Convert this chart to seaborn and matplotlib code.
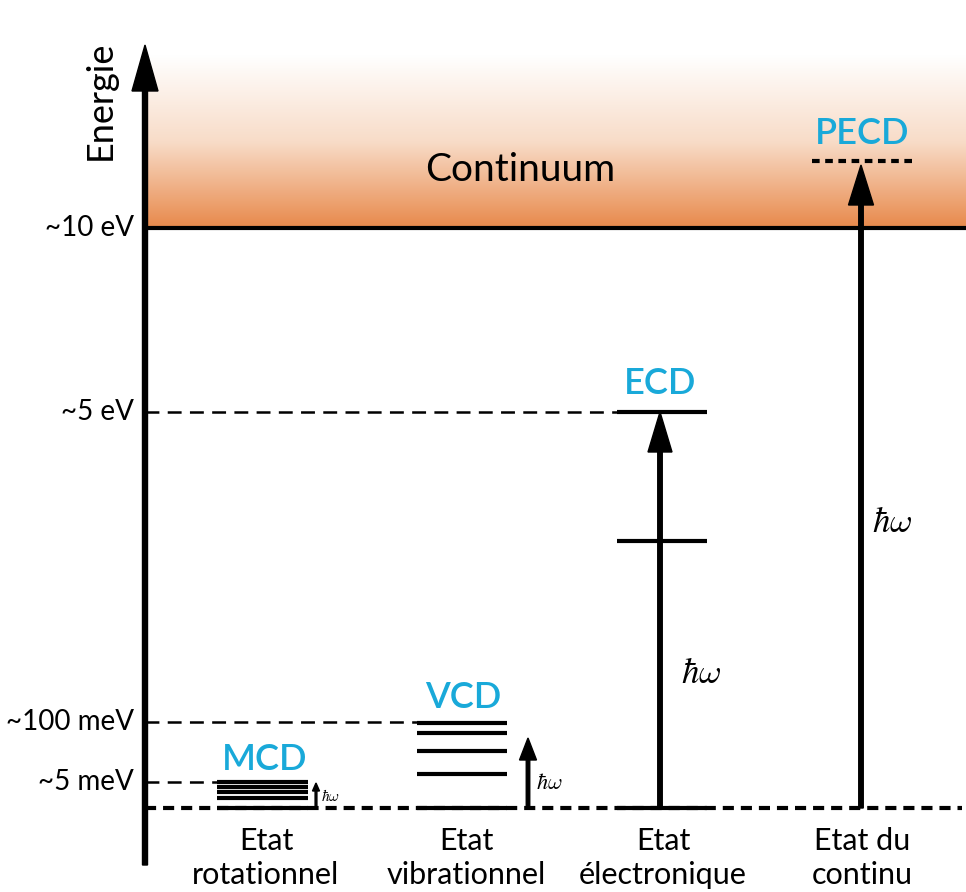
import numpy as np
import matplotlib
matplotlib.use('Agg')
import matplotlib.pyplot as plt
from matplotlib.colors import LinearSegmentedColormap
import seaborn as sns

sns.set_style('white')
plt.rcParams['font.family'] = ['Lato', 'DejaVu Sans']
plt.rcParams['text.color'] = 'black'
plt.rcParams['mathtext.fontset'] = 'cm'
plt.rcParams['lines.scale_dashes'] = False

# diagram units = pixel rows of the drawing (0 = top)
axis_x = 145
continuum_y = 228
continuum_top = 55
baseline_y = 808

tick_labels = ['~10 eV', '~5 eV', '~100 meV', '~5 meV']
tick_y = [228, 412, 722, 782]
guide_end = [None, 617, 417, 218]

columns = ['Etat\nrotationnel', 'Etat\nvibrationnel', 'Etat\nélectronique', 'Etat du\ncontinu']
col_x = [266, 466, 663, 862]
col_left = [217, 417, 617, None]
col_right = [308, 507, 707, None]

mcd_levels = [782, 787, 792, 798, 808]
vcd_levels = [723, 733, 751, 774, 808]
ecd_levels = [412, 541, 808]
pecd_level = 161

methods = ['MCD', 'VCD', 'ECD', 'PECD']
method_x = [265, 463, 660, 862]
method_y = [759, 697, 383, 133]

arrow_x = [316, 528, 660, 861]
arrow_top = [783, 738, 412, 165]
arrow_head_w = [7, 17, 24, 25]
arrow_head_l = [8, 22, 40, 40]
arrow_w = [1.8, 3.5, 4.5, 4.5]
hw_x = [321, 536, 681, 872]
hw_y = [796, 783, 673, 522]
hw_size = [11, 16, 25, 25]

cyan = '#19A9D9'
orange = '#E8894B'

fig = plt.figure(figsize=(9.66, 8.92), dpi=100)
ax = fig.add_axes([0, 0, 1, 1])
ax.set_xlim(0, 966)
ax.set_ylim(892, 0)
ax.axis('off')

# continuum gradient
cmap = LinearSegmentedColormap.from_list('cont', ['#FFFFFF', '#F8DCC8', orange])
grad = np.linspace(0, 1, 256).reshape(-1, 1)
ax.imshow(grad, cmap=cmap, aspect='auto', origin='upper',
          extent=(axis_x, 966, continuum_y, continuum_top), zorder=0)
ax.plot([axis_x, 966], [continuum_y, continuum_y], color='black', lw=3, solid_capstyle='butt')
ax.text(520, 170, 'Continuum', fontsize=28, ha='center', va='center')

# vertical energy axis
ax.arrow(axis_x, 865, 0, 45 - 865, width=5, head_width=26, head_length=46,
         length_includes_head=True, color='black', zorder=5)
ax.text(100, 100, 'Energie', fontsize=26, rotation=90, ha='center', va='center')

# tick labels and dashed guides
for lab, y, xe in zip(tick_labels, tick_y, guide_end):
    ax.text(134, y, lab, fontsize=20, ha='right', va='center')
    if xe is not None:
        ax.plot([axis_x, xe], [y, y], color='black', lw=1.8, dashes=(10, 6))

# baseline
ax.plot([axis_x, 962], [baseline_y, baseline_y], color='black', lw=3, dashes=(8, 5))

# levels
for levels, xl, xr in zip([mcd_levels, vcd_levels, ecd_levels], col_left, col_right):
    ax.hlines(levels, xl, xr, color='black', lw=3)
ax.plot([812, 913], [pecd_level, pecd_level], color='black', lw=3, dashes=(5.5, 4))

# transitions
for x, yt, hw, hl, w in zip(arrow_x, arrow_top, arrow_head_w, arrow_head_l, arrow_w):
    ax.arrow(x, baseline_y, 0, yt - baseline_y, width=w, head_width=hw, head_length=hl,
             length_includes_head=True, color='black', zorder=5)
for x, y, s in zip(hw_x, hw_y, hw_size):
    ax.text(x, y, r'$\hbar\omega$', fontsize=s, ha='left', va='center')

# method labels
for m, x, y in zip(methods, method_x, method_y):
    ax.text(x, y, m, fontsize=26, color=cyan, ha='center', va='center', fontweight='semibold')

# column labels
for lab, x in zip(columns, col_x):
    ax.text(x, 858, lab, fontsize=22, ha='center', va='center', linespacing=1.25)

fig.savefig('out.png', dpi=100)
